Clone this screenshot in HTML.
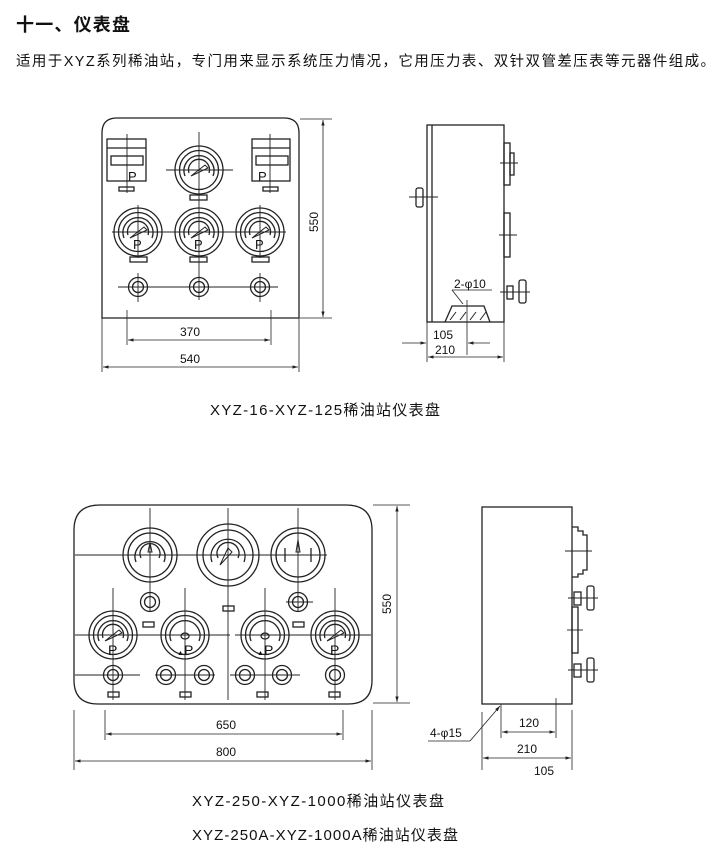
<!DOCTYPE html>
<html><head><meta charset="utf-8"><style>
html,body{margin:0;padding:0;background:#fff;}
svg{display:block}
text{font-family:"Liberation Sans","Noto Sans CJK SC",sans-serif;fill:#111}
</style></head><body>
<svg width="725" height="867" viewBox="0 0 725 867" xmlns="http://www.w3.org/2000/svg">
<defs>
<g id="ga" fill="none" stroke="#222" stroke-width="1.3">
 <circle r="24"/><circle r="19.5"/>
 <path d="M-14,6 A15,15 0 1 1 14,6"/>
 <path d="M-10,3 A10.5,10.5 0 1 1 10,3"/>
 <path d="M-8,6 L6,-5 L9,-2 Z" stroke-width="1"/>
</g>
<g id="sc" fill="none" stroke="#222" stroke-width="1.3"><circle r="9.5"/><circle r="5.5"/></g>
<marker id="ar" viewBox="0 0 10 10" refX="10" refY="5" markerWidth="7" markerHeight="7" orient="auto-start-reverse"><path d="M0,2 L10,5 L0,8 Z" fill="#222"/></marker>
</defs>

<text x="16" y="31" font-size="18" font-weight="bold" textLength="114">十一、仪表盘</text>
<text x="16" y="66" font-size="14.5" textLength="699">适用于XYZ系列稀油站，专门用来显示系统压力情况，它用压力表、双针双管差压表等元器件组成。</text>

<!-- TOP FRONT PANEL -->
<g fill="none" stroke="#222" stroke-width="1.3">
 <path d="M102,318 V133 Q102,118 117,118 H284 Q299,118 299,133 V318 Z"/>
 <rect x="107" y="139" width="39" height="42"/><line x1="107" y1="148" x2="146" y2="148"/>
 <rect x="111" y="156" width="32" height="9"/><rect x="119" y="187" width="15" height="4"/>
 <line x1="127" y1="134" x2="127" y2="193" stroke-width="0.9"/>
 <rect x="252" y="139" width="38" height="42"/><line x1="252" y1="148" x2="290" y2="148"/>
 <rect x="256" y="156" width="32" height="9"/><rect x="263" y="187" width="15" height="4"/>
 <line x1="270" y1="134" x2="270" y2="193" stroke-width="0.9"/>
 <line x1="166" y1="170" x2="233" y2="170" stroke-width="0.9"/>
 <line x1="199" y1="132" x2="199" y2="300" stroke-width="0.9"/>
 <line x1="112" y1="232" x2="286" y2="232" stroke-width="0.9"/>
 <line x1="138" y1="205" x2="138" y2="258" stroke-width="0.9"/>
 <line x1="260" y1="205" x2="260" y2="258" stroke-width="0.9"/>
 <line x1="118" y1="287" x2="278" y2="287" stroke-width="0.9"/>
 <line x1="138" y1="273" x2="138" y2="302" stroke-width="0.9"/>
 <line x1="260" y1="273" x2="260" y2="302" stroke-width="0.9"/>
 <rect x="190" y="195" width="17" height="5"/>
 <rect x="130" y="257" width="17" height="5"/><rect x="190" y="257" width="17" height="5"/><rect x="252" y="257" width="17" height="5"/>
</g>
<use href="#ga" x="199" y="170"/>
<use href="#ga" x="138" y="232"/><use href="#ga" x="199" y="232"/><use href="#ga" x="260" y="232"/>
<use href="#sc" x="138" y="287"/><use href="#sc" x="199" y="287"/><use href="#sc" x="260" y="287"/>
<g font-size="13"><text x="128" y="181">P</text><text x="258" y="181">P</text>
<text x="133" y="249">P</text><text x="194" y="249">P</text><text x="255" y="249">P</text></g>

<g stroke="#222" stroke-width="0.8" fill="none">
 <line x1="300" y1="119" x2="332" y2="119"/><line x1="300" y1="318" x2="332" y2="318"/>
 <line x1="323" y1="120" x2="323" y2="317" marker-start="url(#ar)" marker-end="url(#ar)"/>
 <line x1="127" y1="310" x2="127" y2="345"/><line x1="271" y1="310" x2="271" y2="345"/>
 <line x1="128" y1="340" x2="270" y2="340" marker-start="url(#ar)" marker-end="url(#ar)"/>
 <line x1="102" y1="318" x2="102" y2="372"/><line x1="299" y1="318" x2="299" y2="372"/>
 <line x1="103" y1="367" x2="298" y2="367" marker-start="url(#ar)" marker-end="url(#ar)"/>
</g>
<g font-size="12"><text x="180" y="336">370</text><text x="180" y="363">540</text>
<text transform="translate(318,232) rotate(-90)">550</text></g>

<!-- top side view -->
<g fill="none" stroke="#222" stroke-width="1.3">
 <rect x="427" y="125" width="77" height="197"/><line x1="432" y1="125" x2="432" y2="322"/>
 <rect x="504" y="143" width="6" height="42"/><rect x="510" y="153" width="4" height="22"/>
 <line x1="500" y1="163" x2="518" y2="163" stroke-width="0.9"/>
 <rect x="504" y="213" width="6" height="44"/><line x1="499" y1="235" x2="517" y2="235" stroke-width="0.9"/>
 <rect x="416" y="188" width="7" height="19" rx="2"/><line x1="409" y1="197" x2="438" y2="197" stroke-width="0.9"/>
 <rect x="507" y="286" width="6" height="13"/><rect x="519" y="280" width="7" height="23" rx="2"/>
 <line x1="500" y1="292" x2="530" y2="292" stroke-width="0.9"/>
 <path d="M445,322 L452,306 L484,306 L490,322"/>
 <path d="M450,320 L456,312 M460,320 L466,312 M470,320 L476,312 M480,320 L486,312" stroke-width="1"/>
 <line x1="452" y1="290" x2="492" y2="290" stroke-width="0.8"/><line x1="452" y1="290" x2="463" y2="304" stroke-width="0.8"/>
 <line x1="467" y1="300" x2="467" y2="355" stroke-width="0.8"/>
 <line x1="427" y1="322" x2="427" y2="362" stroke-width="0.8"/><line x1="504" y1="322" x2="504" y2="362" stroke-width="0.8"/>
 <line x1="402" y1="343" x2="426" y2="343" stroke-width="0.8" marker-end="url(#ar)"/>
 <line x1="490" y1="343" x2="468" y2="343" stroke-width="0.8" marker-end="url(#ar)"/>
 <line x1="428" y1="357" x2="503" y2="357" stroke-width="0.8" marker-start="url(#ar)" marker-end="url(#ar)"/>
</g>
<g font-size="12"><text x="454" y="288">2-φ10</text><text x="433" y="339">105</text><text x="435" y="354">210</text></g>

<text x="210" y="415" font-size="15" textLength="230">XYZ-16-XYZ-125稀油站仪表盘</text>

<!-- BOTTOM FRONT PANEL -->
<g fill="none" stroke="#222" stroke-width="1.3">
 <path d="M74,530 Q74,505 100,505 H346 Q372,505 372,530 V680 Q372,704 348,704 H98 Q74,704 74,680 Z"/>
 <g stroke-width="0.9">
  <line x1="75" y1="555" x2="327" y2="555"/>
  <line x1="75" y1="635" x2="230" y2="635"/><line x1="235" y1="635" x2="371" y2="635"/>
  <line x1="75" y1="675" x2="140" y2="675"/><line x1="155" y1="675" x2="215" y2="675"/><line x1="230" y1="675" x2="300" y2="675"/>
  <line x1="150" y1="508" x2="150" y2="612"/><line x1="228" y1="508" x2="228" y2="700"/><line x1="298" y1="508" x2="298" y2="612"/>
  <line x1="113" y1="588" x2="113" y2="700"/><line x1="185" y1="588" x2="185" y2="700"/><line x1="265" y1="588" x2="265" y2="700"/><line x1="335" y1="588" x2="335" y2="700"/>
  <line x1="286" y1="602" x2="313" y2="602"/>
 </g>
 <circle cx="228" cy="555" r="31"/><circle cx="228" cy="555" r="25"/>
 <circle cx="150" cy="555" r="27"/><circle cx="150" cy="555" r="22"/>
 <circle cx="298" cy="555" r="27"/><circle cx="298" cy="555" r="22"/>
 <path d="M136,562 A15,15 0 1 1 164,562 M141,558 A10,10 0 1 1 159,558"/>
 <path d="M212,562 A17,17 0 1 1 244,562 M218,558 A11,11 0 1 1 238,558"/>
 <path d="M285,548 V562 M311,548 V562"/>
 <path d="M148,552 L150,543 L152,552 Z M296,552 L298,540 L300,552 Z M220,565 L228,548 L232,552 Z" stroke-width="1"/>
 <rect x="143" y="622" width="11" height="5"/><rect x="223" y="606" width="11" height="5"/><rect x="293" y="622" width="11" height="5"/>
 <rect x="108" y="692" width="11" height="5"/><rect x="180" y="692" width="11" height="5"/><rect x="257" y="692" width="11" height="5"/><rect x="329" y="692" width="11" height="5"/>
 <path d="M185,636 m-4,0 a4,3 0 1 0 8,0 a4,3 0 1 0 -8,0"/>
 <path d="M265,636 m-4,0 a4,3 0 1 0 8,0 a4,3 0 1 0 -8,0"/>
</g>
<use href="#ga" x="113" y="635"/><use href="#ga" x="335" y="635"/>
<g fill="none" stroke="#222" stroke-width="1.3">
 <circle cx="185" cy="635" r="24"/><circle cx="185" cy="635" r="19.5"/><path d="M171,641 A15,15 0 1 1 199,641"/>
 <circle cx="265" cy="635" r="24"/><circle cx="265" cy="635" r="19.5"/><path d="M251,641 A15,15 0 1 1 279,641"/>
</g>
<use href="#sc" x="150" y="602"/><use href="#sc" x="298" y="602"/>
<use href="#sc" x="113" y="675"/><use href="#sc" x="166" y="675"/><use href="#sc" x="204" y="675"/><use href="#sc" x="245" y="675"/><use href="#sc" x="282" y="675"/><use href="#sc" x="335" y="675"/>
<g font-size="14"><text x="108" y="655">P</text><text x="330" y="655">P</text>
<text x="177" y="655"><tspan font-size="7">▲</tspan>P</text><text x="257" y="655"><tspan font-size="7">▲</tspan>P</text></g>

<g stroke="#222" stroke-width="0.8" fill="none">
 <line x1="373" y1="505" x2="410" y2="505"/><line x1="373" y1="703" x2="410" y2="703"/>
 <line x1="397" y1="506" x2="397" y2="702" marker-start="url(#ar)" marker-end="url(#ar)"/>
 <line x1="105" y1="710" x2="105" y2="740"/><line x1="343" y1="710" x2="343" y2="740"/>
 <line x1="106" y1="734" x2="342" y2="734" marker-start="url(#ar)" marker-end="url(#ar)"/>
 <line x1="74" y1="710" x2="74" y2="770"/><line x1="372" y1="710" x2="372" y2="770"/>
 <line x1="75" y1="761" x2="371" y2="761" marker-start="url(#ar)" marker-end="url(#ar)"/>
</g>
<g font-size="12"><text x="216" y="729">650</text><text x="216" y="756">800</text>
<text transform="translate(391,614) rotate(-90)">550</text></g>

<!-- bottom side view -->
<g fill="none" stroke="#222" stroke-width="1.3">
 <rect x="482" y="507" width="90" height="197"/>
 <path d="M572,527 H578 V531 H583 V535 H587 V570 H583 V574 H578 V577 H572"/>
 <line x1="565" y1="551" x2="592" y2="551" stroke-width="0.9"/>
 <rect x="574" y="592" width="7" height="13"/><rect x="587" y="586" width="7" height="24" rx="2"/>
 <line x1="568" y1="598" x2="598" y2="598" stroke-width="0.9"/>
 <rect x="572" y="607" width="6" height="46"/><line x1="567" y1="630" x2="583" y2="630" stroke-width="0.9"/>
 <rect x="574" y="664" width="7" height="13"/><rect x="587" y="658" width="7" height="24" rx="2"/>
 <line x1="568" y1="670" x2="598" y2="670" stroke-width="0.9"/>
</g>
<g stroke="#222" stroke-width="0.8" fill="none">
 <line x1="501" y1="704" x2="501" y2="738"/><line x1="556" y1="698" x2="556" y2="738"/>
 <line x1="502" y1="732" x2="555" y2="732" marker-start="url(#ar)" marker-end="url(#ar)"/>
 <line x1="428" y1="741" x2="470" y2="741"/><line x1="470" y1="741" x2="500" y2="706" marker-end="url(#ar)"/>
 <line x1="482" y1="712" x2="482" y2="770"/><line x1="572" y1="710" x2="572" y2="770"/>
 <line x1="483" y1="758" x2="571" y2="758" marker-start="url(#ar)" marker-end="url(#ar)"/>
</g>
<g font-size="12"><text x="519" y="727">120</text><text x="430" y="737">4-φ15</text><text x="517" y="753">210</text><text x="534" y="775">105</text></g>

<text x="192" y="806" font-size="15" textLength="252">XYZ-250-XYZ-1000稀油站仪表盘</text>
<text x="192" y="840" font-size="15" textLength="266">XYZ-250A-XYZ-1000A稀油站仪表盘</text>
</svg>
</body></html>
